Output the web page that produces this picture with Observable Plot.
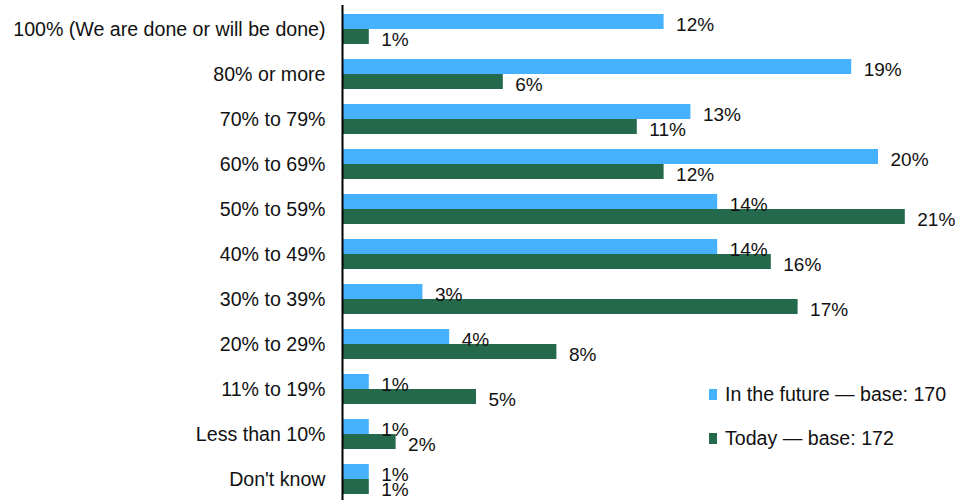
<!DOCTYPE html>
<html>
<head>
<meta charset="utf-8">
<script src="https://cdn.jsdelivr.net/npm/d3@7"></script>
<script src="https://cdn.jsdelivr.net/npm/@observablehq/plot@0.6"></script>
<style>
  html, body { margin: 0; padding: 0; background: #fff; }
  #wrap { position: relative; width: 958px; height: 500px; font-family: "Liberation Sans", Arial, sans-serif; }
  .leg { position: absolute; left: 709px; font-size: 19.6px; color: #111; display: flex; align-items: center; white-space: nowrap; }
  .leg .sw { width: 8px; height: 11px; margin-right: 8px; }
</style>
</head>
<body>
<div id="wrap"></div>
<script>
const categories = [
  "100% (We are done or will be done)",
  "80% or more",
  "70% to 79%",
  "60% to 69%",
  "50% to 59%",
  "40% to 49%",
  "30% to 39%",
  "20% to 29%",
  "11% to 19%",
  "Less than 10%",
  "Don't know"
];
const future = [12, 19, 13, 20, 14, 14, 3, 4, 1, 1, 1];
const today = [1, 6, 11, 12, 21, 16, 17, 8, 5, 2, 1];
const seriesNames = ["In the future \u2014 base: 170", "Today \u2014 base: 172"];
const seriesColors = ["#45b1ff", "#24694b"];

const rows = categories.map((c, i) => ({cat: c, future: future[i], today: today[i]}));

const chart = Plot.plot({
  width: 958,
  height: 500,
  marginLeft: 342,
  marginTop: 5,
  marginBottom: 0,
  marginRight: 0,
  style: {fontFamily: "Liberation Sans, Arial, sans-serif", fontSize: "19px", color: "#111", background: "#fff"},
  x: {domain: [0, 22], range: [342, 342 + 26.8 * 22], axis: null},
  y: {domain: categories, range: [5.4, 502.6], paddingInner: 0.336, paddingOuter: 0.168, axis: null},
  marks: [
    Plot.barX(rows, {x: "future", y: "cat", fill: seriesColors[0], insetBottom: 15}),
    Plot.barX(rows, {x: "today", y: "cat", fill: seriesColors[1], insetTop: 15}),
    Plot.text(rows, {x: "future", y: "cat", text: d => d.future + "%", textAnchor: "start", dx: 12, dy: -5, fontSize: 19, fill: "#111"}),
    Plot.text(rows, {x: "today", y: "cat", text: d => d.today + "%", textAnchor: "start", dx: 12, dy: 10, fontSize: 19, fill: "#111"}),
    Plot.axisY({tickSize: 0, tickPadding: 17, label: null, fontSize: 19.6}),
    Plot.ruleX([0], {stroke: "#000", strokeWidth: 2})
  ]
});

const wrap = document.getElementById("wrap");
wrap.appendChild(chart);
const legTops = [394, 438];
seriesNames.forEach((name, i) => {
  const el = document.createElement("div");
  el.className = "leg";
  el.style.top = (legTops[i] - 11) + "px";
  el.style.height = "22px";
  const sw = document.createElement("span");
  sw.className = "sw";
  sw.style.background = seriesColors[i];
  const tx = document.createElement("span");
  tx.textContent = name;
  el.appendChild(sw);
  el.appendChild(tx);
  wrap.appendChild(el);
});
</script>
</body>
</html>
